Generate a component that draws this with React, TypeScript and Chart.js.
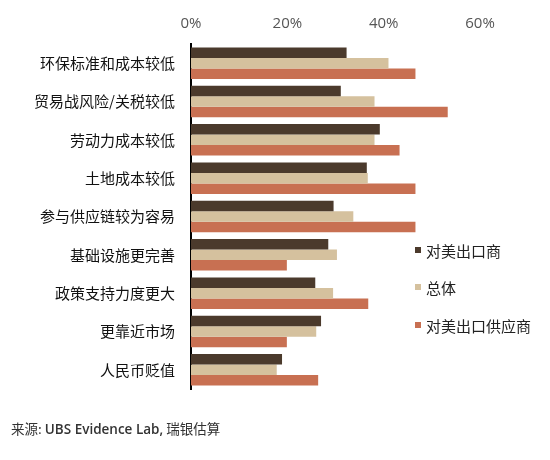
import React, { useEffect, useRef } from 'react';
import { Chart, registerables } from 'chart.js';

Chart.register(...registerables);

const categories = [
  '环保标准和成本较低',
  '贸易战风险/关税较低',
  '劳动力成本较低',
  '土地成本较低',
  '参与供应链较为容易',
  '基础设施更完善',
  '政策支持力度更大',
  '更靠近市场',
  '人民币贬值',
];

const seriesNames = ['对美出口商', '总体', '对美出口供应商'];
const seriesColors = ['#4b3a2c', '#d5c19e', '#c87052'];

const exporters = [32.3, 31.1, 39.2, 36.5, 29.6, 28.5, 25.8, 27.0, 18.9];
const overall = [41.0, 38.1, 38.1, 36.7, 33.7, 30.3, 29.5, 26.0, 17.8];
const suppliers = [46.6, 53.3, 43.3, 46.6, 46.6, 19.9, 36.8, 19.9, 26.4];

const CJK = '"Noto Sans CJK SC", "Noto Sans", sans-serif';

const App: React.FC = () => {
  const chartRef = useRef<HTMLCanvasElement>(null);

  useEffect(() => {
    if (!chartRef.current) return;
    const chart = new Chart(chartRef.current, {
      type: 'bar',
      data: {
        labels: categories,
        datasets: [exporters, overall, suppliers].map((values, i) => ({
          label: seriesNames[i],
          data: values,
          backgroundColor: seriesColors[i],
          borderWidth: 0,
          categoryPercentage: 0.82,
          barPercentage: 1,
        })),
      },
      options: {
        indexAxis: 'y',
        animation: false,
        responsive: false,
        devicePixelRatio: 1,
        layout: { padding: { top: 0, right: 70, bottom: 71, left: 0 } },
        plugins: {
          legend: { display: false },
          tooltip: { enabled: false },
        },
        scales: {
          x: {
            position: 'top',
            min: 0,
            max: 60,
            ticks: {
              stepSize: 20,
              padding: 3,
              color: '#555',
              font: { family: '"Open Sans", sans-serif', size: 15 },
              callback: (v) => v + '%',
            },
            grid: { display: false },
            border: { display: false },
            afterFit: (scale) => {
              scale.height = 44;
            },
          },
          y: {
            ticks: {
              padding: 8,
              color: '#111',
              font: { family: CJK, size: 15 },
            },
            grid: { display: false },
            border: { display: true, color: '#000', width: 2 },
            afterFit: (scale) => {
              scale.width = 191;
            },
          },
        },
      },
    });
    return () => chart.destroy();
  }, []);

  return (
    <div style={{ position: 'absolute', left: 0, top: 0, width: 550, height: 460, background: '#fff' }}>
      <canvas ref={chartRef} width={550} height={460} style={{ width: 550, height: 460 }} />
      {seriesNames.map((name, i) => (
        <div
          key={name}
          style={{
            position: 'absolute',
            left: 415,
            top: [250, 287, 325][i] - 11,
            height: 22,
            display: 'flex',
            alignItems: 'center',
            fontFamily: CJK,
            fontSize: 15,
            color: '#222',
            whiteSpace: 'nowrap',
          }}
        >
          <span style={{ width: 6, height: 6, background: seriesColors[i], marginRight: 5 }} />
          {name}
        </div>
      ))}
      <div
        style={{
          position: 'absolute',
          left: 11,
          top: 418,
          fontFamily: CJK,
          fontSize: 13.5,
          color: '#333',
          whiteSpace: 'nowrap',
          lineHeight: '20px',
        }}
      >
        来源:{' '}
        <span style={{ fontFamily: '"Open Sans", sans-serif', fontWeight: 600 }}>UBS Evidence Lab,</span> 瑞银估算
      </div>
    </div>
  );
};

export default App;
